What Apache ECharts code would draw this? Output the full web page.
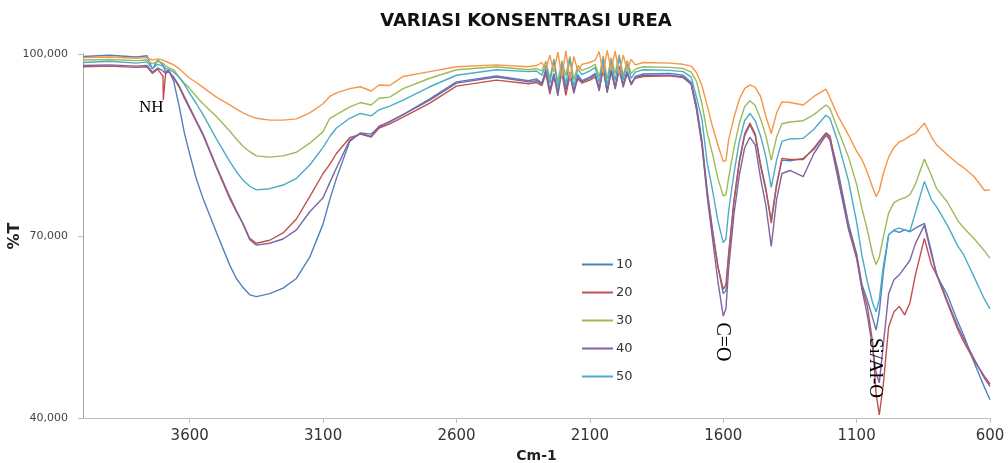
<!DOCTYPE html>
<html>
<head>
<meta charset="utf-8">
<title>Variasi Konsentrasi Urea</title>
<script src="https://cdn.jsdelivr.net/npm/echarts@6/dist/echarts.min.js"></script>
<style>
	html, body { margin: 0; padding: 0; background: #fff; }
	#dataView { width: 1008px; height: 463px; }
</style>
</head>
<body>
<div id="dataView"></div>
<script>
// bilangan gelombang (cm-1), sumbu x
var wavenumber = [
	4000, 3900, 3800, 3760, 3740, 3720, 3700, 3699, 3690, 3680,
	3660, 3640, 3620, 3600, 3575, 3550, 3500, 3450, 3425, 3400,
	3375, 3350, 3300, 3250, 3200, 3150, 3100, 3075, 3050, 3000,
	2960, 2920, 2890, 2850, 2800, 2700, 2600, 2450, 2330, 2300,
	2280, 2265, 2250, 2235, 2220, 2205, 2190, 2175, 2160, 2145,
	2130, 2100, 2080, 2065, 2050, 2035, 2020, 2005, 1990, 1975,
	1960, 1945, 1930, 1900, 1800, 1750, 1720, 1700, 1680, 1660,
	1640, 1620, 1600, 1590, 1580, 1560, 1540, 1520, 1500, 1480,
	1460, 1440, 1420, 1400, 1380, 1350, 1300, 1260, 1215, 1200,
	1170, 1130, 1100, 1080, 1060, 1040, 1027, 1015, 1000, 980,
	960, 940, 920, 900, 880, 846, 820, 800, 760, 720,
	700, 660, 620, 600
];

// %T tiap konsentrasi
var t10 = [
	99.6, 99.8, 99.5, 99.7, 97.5, 99.0, 98.2, 98.2, 97.0, 97.4,
	95.5, 91.5, 87.0, 83.5, 79.4, 76.2, 70.6, 65.2, 63.0, 61.5,
	60.3, 60.0, 60.5, 61.4, 63.0, 66.5, 72.0, 76.0, 79.5, 85.6,
	87.0, 86.8, 88.0, 88.9, 90.0, 92.6, 95.4, 96.4, 95.6, 95.9,
	95.2, 97.5, 94.0, 96.8, 93.6, 97.8, 94.4, 97.0, 93.8, 96.6,
	95.6, 96.2, 96.8, 94.2, 98.3, 94.0, 97.6, 94.5, 98.0, 94.9,
	97.2, 95.0, 96.3, 96.7, 96.8, 96.5, 95.3, 91.5, 85.8, 77.5,
	71.0, 65.0, 60.5, 61.0, 66.5, 75.5, 82.0, 86.5, 88.3, 86.5,
	81.5, 77.5, 72.6, 78.5, 82.5, 82.4, 82.8, 84.3, 86.9, 86.2,
	80.8, 72.0, 67.0, 62.0, 59.5, 56.5, 54.5, 57.5, 64.0, 70.2,
	70.9, 70.6, 71.0, 70.7, 71.3, 72.1, 67.5, 63.5, 60.3, 55.8,
	53.8, 49.2, 45.0, 43.0
];
var t20 = [
	97.9, 98.0, 97.8, 97.9, 96.8, 97.5, 96.3, 92.4, 96.9, 97.2,
	96.0, 94.6, 92.7, 91.0, 88.8, 86.6, 81.3, 76.2, 74.0, 72.0,
	69.6, 68.8, 69.3, 70.5, 72.8, 76.5, 80.3, 81.8, 83.6, 86.2,
	86.8, 86.3, 87.8, 88.5, 89.6, 91.9, 94.7, 95.7, 95.1, 95.3,
	94.8, 96.8, 93.4, 96.2, 94.0, 96.9, 93.2, 96.4, 94.1, 95.9,
	95.2, 95.7, 96.2, 94.3, 97.4, 93.9, 97.0, 94.6, 97.3, 95.0,
	96.7, 95.2, 96.0, 96.3, 96.4, 96.1, 95.0, 91.0, 85.3, 77.0,
	70.5, 65.0, 61.2, 62.0, 67.0, 75.8, 82.3, 86.8, 88.6, 86.8,
	81.8, 77.8, 72.1, 78.3, 82.8, 82.6, 82.6, 84.5, 87.0, 86.5,
	80.0, 71.3, 66.8, 61.5, 58.5, 52.5, 44.0, 40.5, 45.5, 55.0,
	57.5, 58.4, 57.0, 59.0, 63.5, 69.6, 65.3, 63.6, 59.0, 54.5,
	52.7, 49.5, 46.8, 45.6
];
var t30 = [
	99.0, 99.1, 98.9, 99.0, 98.4, 98.8, 98.5, 98.5, 98.0, 97.8,
	97.4, 96.2, 95.2, 94.3, 93.0, 91.8, 89.7, 87.3, 86.0, 84.8,
	83.9, 83.2, 83.0, 83.2, 83.8, 85.3, 87.2, 89.4, 90.0, 91.3,
	92.0, 91.6, 92.7, 92.9, 94.3, 96.0, 97.4, 97.9, 97.4, 97.6,
	97.2, 98.8, 96.0, 99.2, 95.4, 98.9, 96.5, 99.6, 95.8, 98.1,
	97.3, 97.8, 98.3, 96.2, 99.7, 95.9, 99.4, 96.8, 99.9, 96.4,
	98.9, 96.8, 97.5, 97.9, 97.8, 97.6, 97.0, 95.5, 91.8, 87.0,
	83.5, 79.5, 76.6, 76.8, 79.5, 84.5, 88.5, 91.3, 92.3, 91.5,
	89.3, 86.5, 82.5, 86.3, 88.5, 88.8, 89.0, 90.0, 91.6, 91.0,
	87.5, 83.0, 78.5, 74.5, 71.0, 67.0, 65.3, 66.5, 69.8, 73.8,
	75.5, 76.0, 76.3, 76.8, 78.5, 82.7, 80.0, 77.8, 75.6, 72.5,
	71.4, 69.6, 67.5, 66.3
];
var t40 = [
	98.1, 98.2, 98.0, 98.1, 97.0, 97.7, 97.2, 97.0, 96.8, 97.1,
	96.2, 94.8, 93.0, 91.2, 89.0, 86.8, 81.5, 76.5, 74.2, 72.0,
	69.4, 68.5, 68.8, 69.5, 71.0, 74.0, 76.3, 78.8, 81.2, 85.8,
	86.9, 86.4, 88.1, 88.8, 90.0, 92.4, 95.2, 96.2, 95.4, 95.6,
	95.0, 97.2, 93.8, 96.5, 93.1, 97.4, 94.0, 96.7, 93.5, 96.2,
	95.4, 96.0, 96.5, 93.9, 97.9, 93.6, 97.3, 94.2, 97.6, 94.5,
	96.9, 94.9, 96.1, 96.5, 96.5, 96.2, 95.0, 90.8, 85.0, 76.5,
	69.5, 62.5, 56.8, 58.0, 64.5, 73.5, 80.0, 84.5, 86.3, 85.0,
	79.5, 75.0, 68.3, 76.0, 80.3, 80.8, 79.8, 83.6, 86.6, 85.8,
	79.5, 71.0, 66.3, 61.2, 57.0, 51.5, 47.5, 45.8, 52.0, 60.5,
	62.8, 63.6, 64.8, 66.0, 68.7, 71.8, 67.0, 63.8, 59.3, 55.0,
	53.2, 49.8, 46.5, 45.2
];
var t50 = [
	98.6, 98.8, 98.5, 98.7, 97.6, 98.3, 98.0, 98.0, 97.6, 97.5,
	97.0, 96.2, 95.0, 93.5, 91.8, 90.0, 86.0, 82.3, 80.6, 79.2,
	78.2, 77.6, 77.8, 78.4, 79.5, 81.7, 84.6, 86.4, 87.8, 89.4,
	90.2, 89.8, 90.8, 91.4, 92.4, 94.6, 96.5, 97.4, 97.1, 97.2,
	96.5, 98.2, 95.2, 99.0, 94.3, 98.4, 95.0, 99.3, 94.6, 97.5,
	96.6, 97.2, 97.8, 95.3, 99.2, 94.8, 98.8, 95.6, 99.5, 95.7,
	98.3, 96.0, 97.0, 97.4, 97.3, 97.1, 96.2, 92.8, 89.3, 82.0,
	77.5, 72.5, 68.9, 69.5, 74.0, 80.3, 85.5, 89.0, 90.2, 89.0,
	86.5, 83.0, 78.0, 82.5, 85.6, 86.0, 86.1, 87.6, 89.9, 89.4,
	85.5, 79.0, 72.3, 66.8, 62.5, 59.0, 57.5, 59.5, 65.0, 70.2,
	71.0, 71.3, 71.0, 70.8, 73.8, 79.0, 76.0, 74.8, 71.8, 68.3,
	67.0, 63.3, 59.5, 58.0
];
// seri ke-6 (oranye), tidak tampil di legenda
var t60 = [
	99.4, 99.5, 99.3, 99.4, 99.0, 99.2, 99.0, 99.0, 98.8, 98.6,
	98.2, 97.6, 96.8, 96.0, 95.3, 94.5, 92.9, 91.6, 90.9, 90.3,
	89.8, 89.4, 89.1, 89.1, 89.3, 90.3, 91.8, 93.0, 93.6, 94.3,
	94.6, 93.9, 94.9, 94.8, 96.3, 97.1, 97.9, 98.2, 97.9, 98.1,
	98.6, 97.5, 99.8, 97.0, 100.3, 96.2, 100.5, 95.8, 99.6, 97.2,
	98.3, 98.6, 99.0, 100.4, 96.8, 100.6, 97.3, 100.5, 96.5, 99.8,
	97.4, 99.1, 98.2, 98.6, 98.5, 98.3, 98.0, 96.9, 94.8, 91.5,
	88.0, 85.0, 82.3, 82.4, 85.8, 89.5, 92.5, 94.3, 94.9, 94.5,
	93.0, 89.7, 86.9, 90.3, 92.1, 92.0, 91.6, 93.0, 94.2, 92.8,
	89.8, 86.6, 84.0, 82.6, 80.5, 78.0, 76.5, 77.5, 80.3, 83.0,
	84.6, 85.5, 85.9, 86.5, 86.9, 88.6, 86.4, 85.0, 83.4, 81.9,
	81.3, 79.8, 77.5, 77.6
];

var seriesNames = ['10', '20', '30', '40', '50', '60'];
var seriesValues = [t10, t20, t30, t40, t50, t60];
var seriesColors = ['#4F81BD', '#C0504D', '#9BBB59', '#8064A2', '#4BACC6', '#F79646'];
var xTicks = [3600, 3100, 2600, 2100, 1600, 1100, 600];
var yTicks = [40, 70, 100];

function pairs(values){
	var out = [];
	for (var i = 0; i < wavenumber.length; i++) {
		out.push([wavenumber[i], values[i]]);
	}
	return out;
}

var dataViewcharts = echarts.init(document.getElementById('dataView'));

var JsonSeries = [];
seriesNames.forEach(function(name, i) {
	JsonSeries.push({
		name: name,
		type: 'line',
		symbol: 'none',
		clip: false,
		lineStyle: { width: 1.4, color: seriesColors[i] },
		itemStyle: { color: seriesColors[i] },
		emphasis: { disabled: true },
		data: pairs(seriesValues[i])
	});
});

var dataViewoption = {
	animation: false,
	title: {
		text: 'VARIASI KONSENTRASI UREA',
		left: 521,
		top: 7,
		textAlign: 'center',
		textStyle: {
			fontFamily: 'DejaVu Sans',
			fontWeight: 'bold',
			fontSize: 18,
			color: '#111'
		}
	},
	legend: {
		orient: 'vertical',
		left: 577,
		top: 253,
		icon: 'rect',
		itemWidth: 31,
		itemHeight: 2,
		itemGap: 15,
		data: ['10', '20', '30', '40', '50'],
		textStyle: { fontFamily: 'DejaVu Sans', fontSize: 13, color: '#333', padding: [0, 0, 0, -2] }
	},
	grid: { left: 83, right: 18, top: 54, bottom: 45, outerBoundsMode: 'none' },
	xAxis: {
		type: 'value',
		inverse: true,
		min: 600,
		max: 4000,
		name: 'Cm-1',
		nameLocation: 'middle',
		nameGap: 31,
		nameMoveOverlap: false,
		nameTextStyle: { fontFamily: 'DejaVu Sans', fontWeight: 'bold', fontSize: 14, color: '#222' },
		axisLine: { lineStyle: { color: '#bdbdbd' } },
		axisTick: { length: 5, lineStyle: { color: '#bdbdbd' }, customValues: xTicks },
		axisLabel: {
			customValues: xTicks,
			margin: 11,
			fontFamily: 'DejaVu Sans',
			fontSize: 15,
			color: '#333',
			formatter: function(v) { return String(v); }
		},
		splitLine: { show: false }
	},
	yAxis: {
		type: 'value',
		min: 40,
		max: 100,
		name: '%T',
		nameLocation: 'middle',
		nameGap: 60,
		nameMoveOverlap: false,
		nameTextStyle: { fontFamily: 'DejaVu Sans', fontWeight: 'bold', fontSize: 16, color: '#222' },
		axisLine: { show: true, lineStyle: { color: '#a6a6a6' } },
		axisTick: { show: true, length: 5, lineStyle: { color: '#bdbdbd' }, customValues: yTicks },
		axisLabel: {
			customValues: yTicks,
			margin: 15,
			fontFamily: 'DejaVu Sans',
			fontSize: 11,
			color: '#444',
			formatter: function(v) { return v.toFixed(3).replace('.', ','); }
		},
		splitLine: { show: false }
	},
	graphic: [
		{ type: 'text', left: 139, top: 99, z: 100,
			style: { text: 'NH', fontFamily: 'Liberation Serif', fontSize: 17, fill: '#000' } },
		{ type: 'text', x: 722, y: 342, rotation: -Math.PI / 2, z: 100,
			style: { text: 'C=O', fontFamily: 'Liberation Serif', fontSize: 20, fill: '#000', align: 'center', verticalAlign: 'middle' } },
		{ type: 'text', x: 875, y: 368, rotation: -Math.PI / 2, z: 100,
			style: { text: 'Si/Al-O', fontFamily: 'Liberation Serif', fontSize: 19, fill: '#000', align: 'center', verticalAlign: 'middle' } }
	],
	series: JsonSeries
};

dataViewcharts.setOption(dataViewoption);
</script>
</body>
</html>
